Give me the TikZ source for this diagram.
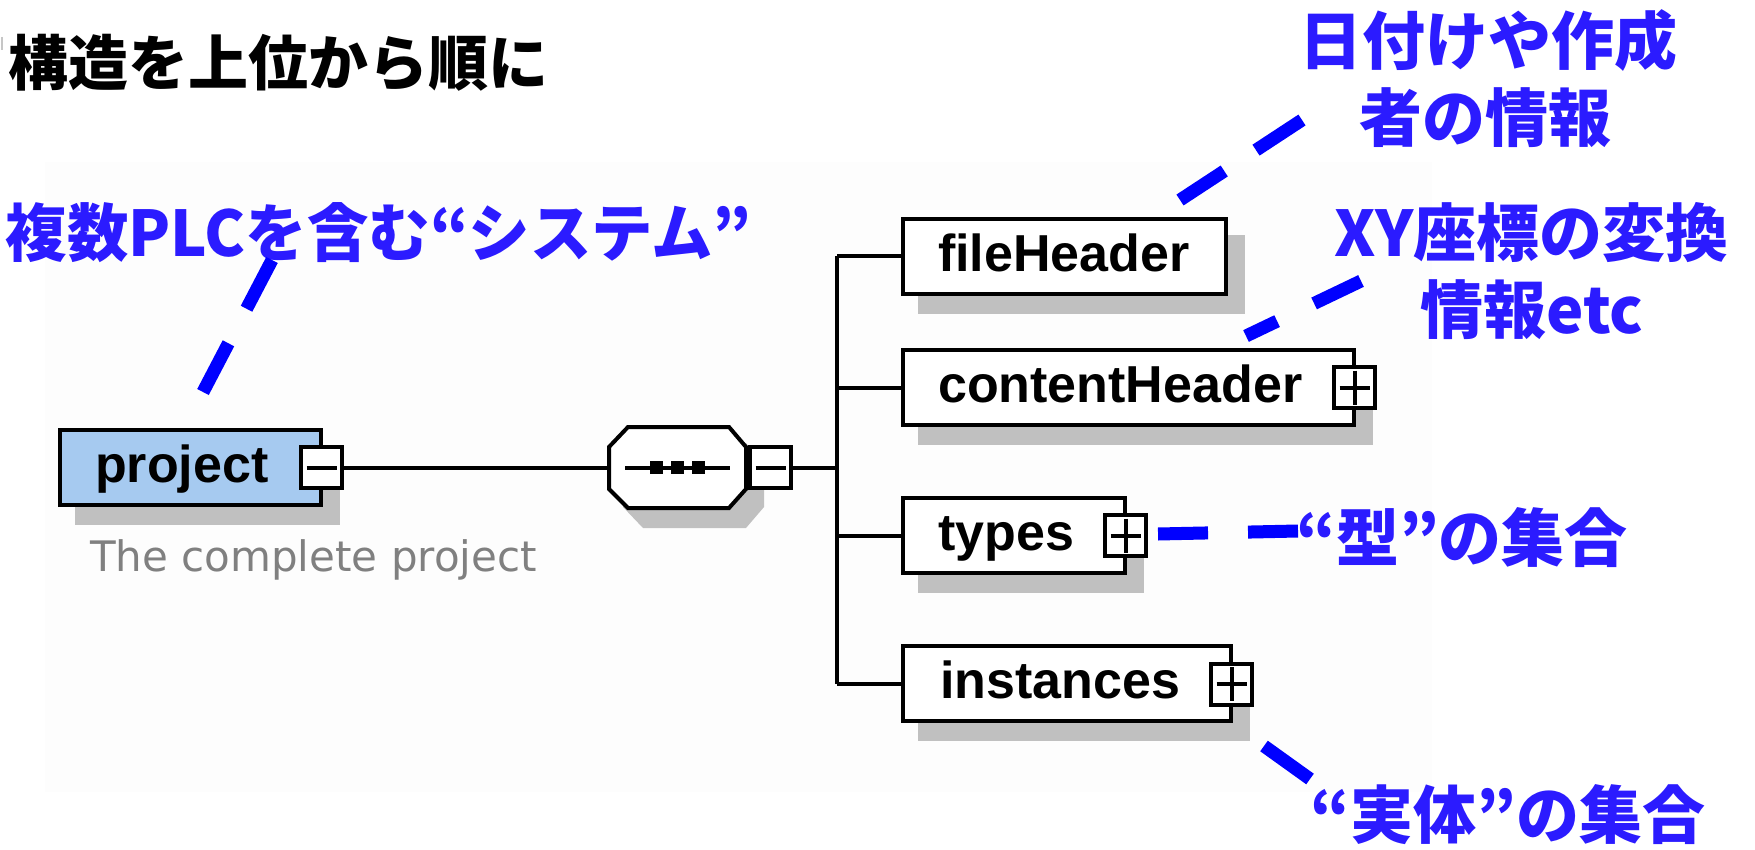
\documentclass[tikz,border=0pt]{standalone}
\usepackage{fontspec}
\usetikzlibrary{calc}
\newfontfamily\cjk{Noto Sans CJK JP}
\newfontfamily\elfont{Liberation Sans}
\newfontfamily\descfont{DejaVu Sans}
\definecolor{annot}{RGB}{43,27,255}
\definecolor{dashblue}{RGB}{0,0,255}
\definecolor{projblue}{RGB}{166,202,240}
\definecolor{shadowgray}{RGB}{192,192,192}
\definecolor{descgray}{RGB}{128,128,128}
\definecolor{panel}{RGB}{253,253,253}
\tikzset{
  elbox/.style={draw=black, line width=4pt, fill=white, inner sep=0pt, minimum height=75pt},
  shadowbox/.style={fill=shadowgray, draw=none, inner sep=0pt, minimum height=79pt},
  toggle/.style={draw=black, line width=4pt, fill=white, inner sep=0pt, minimum width=41pt, minimum height=41pt},
  sign/.style={draw=black, line width=4pt},
  tree/.style={draw=black, line width=4pt},
  eltext/.style={font=\elfont\bfseries\fontsize{52}{60}\selectfont, anchor=base west, inner sep=0pt},
  annottext/.style={text=annot, font=\cjk\bfseries\fontsize{63}{70}\selectfont, anchor=base, inner sep=0pt},
  callout/.style={draw=dashblue, line width=13pt},
}
\begin{document}
\begin{tikzpicture}[x=1pt,y=-1pt]
\useasboundingbox (0,0) rectangle (1755,850);
\fill[white] (0,0) rectangle (1755,850);
\fill[panel] (45,162) rectangle (1432,792);
\draw[gray!45, line width=2pt] (1.5,37) -- (1.5,50);

% title
\node[annottext, text=black, font=\cjk\bfseries\fontsize{60}{66}\selectfont] (title) at (278.5,86) {構造を上位から順に};

% shadows
\node[shadowbox, minimum width=265pt] (projsh) at (207.5,485.5) {};
\fill[shadowgray] (623,465) -- (643,443) -- (746,443) -- (764,465) -- (764,507) -- (746,528) -- (643,528) -- (623,507) -- cycle;
\node[shadowbox, minimum width=327pt] (fhsh) at (1081.5,274.5) {};
\node[shadowbox, minimum width=455pt] (chsh) at (1145.5,405.5) {};
\node[shadowbox, minimum width=226pt] (tysh) at (1031,553.5) {};
\node[shadowbox, minimum width=332pt] (insh) at (1084,701.5) {};

% element boxes
\node[elbox, fill=projblue, minimum width=261pt] (proj) at (190.5,467.5) {};
\node[inner sep=0pt, minimum width=139pt, minimum height=83pt] (seq) at (677.5,467.5) {};
\draw[line width=4pt, fill=white, line join=miter] (609,447) -- (628,427) -- (729,427) -- (746,447) -- (746,489) -- (729,508) -- (628,508) -- (609,489) -- cycle;
\node[elbox, minimum width=323pt] (fh) at (1064.5,256.5) {};
\node[elbox, minimum width=451pt] (ch) at (1128.5,387.5) {};
\node[elbox, minimum width=222pt] (ty) at (1014,535.5) {};
\node[elbox, minimum width=328pt] (in) at (1067,683.5) {};

% element labels
\node[eltext] (projt) at (95,482) {project};
\node[eltext] (fht) at (938,271.5) {fileHeader};
\node[eltext] (cht) at (938,402.5) {contentHeader};
\node[eltext] (tyt) at (938,550.5) {types};
\node[eltext] (int) at (940,698.5) {instances};
\node[anchor=base, inner sep=0pt, text=descgray, font=\descfont\fontsize{42}{48}\selectfont] (desc) at (313.5,571) {The complete project};

% sequence symbol
\draw[line width=4pt] (625,467.5) -- (730,467.5);
\foreach \cx in {656.5,677.5,698.5} \fill[black] (\cx-6.5,461) rectangle (\cx+6.5,474);

% toggles
\node[toggle] (projtog) at (321.5,467.5) {};
\node[toggle] (seqtog) at (770.5,467.5) {};
\node[toggle] (chtog) at (1354.5,387.5) {};
\node[toggle] (tytog) at (1125.5,535.5) {};
\node[toggle] (intog) at (1231.5,684) {};
\foreach \t in {projtog,seqtog,chtog,tytog,intog}
  \draw[sign] ($(\t.center)+(-15,0)$) -- ($(\t.center)+(15,0)$);
\foreach \t in {chtog,tytog,intog}
  \draw[sign] ($(\t.center)+(0,-17)$) -- ($(\t.center)+(0,17)$);

% tree connectors
\coordinate (tk) at (837,467.5);
\draw[tree] (projtog.east) -- (seq.west);
\draw[tree] (seqtog.east) -- (tk);
\draw[tree] (tk |- fh.west) -- (tk |- in.west);
\draw[tree] (tk |- fh.west) -- (fh.west);
\draw[tree] (tk |- ch.west) -- (ch.west);
\draw[tree] (tk |- ty.west) -- (ty.west);
\draw[tree] (tk |- in.west) -- (in.west);

% annotations
\node[annottext] (sys) at (378.5,257) {\scalebox{0.975}[1]{複数PLCを含む“システム”}};
\node[annottext] (date1) at (1488.5,65) {日付けや作成};
\node[annottext] (date2) at (1485,142) {者の情報};
\node[annottext] (xy1) at (1531.5,257) {XY座標の変換};
\node[annottext] (xy2) at (1532,333) {情報etc};
\node[annottext] (typ) at (1462,561) {“型”の集合};
\node[annottext] (ins) at (1508,838) {“実体”の集合};

% callout lines
\coordinate (a1) at (272,260);   \coordinate (a2) at (203,392);
\coordinate (b1) at (1302,120);  \coordinate (b2) at (1180,200);
\coordinate (c1) at (1361,281);  \coordinate (c2) at (1246,336);
\coordinate (d1) at (1298,531);  \coordinate (d2) at (1158,534);
\coordinate (e1) at (1310,779);  \coordinate (e2) at (1264,746);
\draw[callout, dash pattern=on 55pt off 39pt] (a1) -- (a2);
\draw[callout, dash pattern=on 55pt off 38pt] (b1) -- (b2);
\draw[callout, dash pattern=on 52pt off 41pt] (c1) -- (c2);
\draw[callout, dash pattern=on 50pt off 40pt] (d1) -- (d2);
\draw[callout, dash pattern=on 57pt off 40pt] (e1) -- (e2);
\end{tikzpicture}
\end{document}
